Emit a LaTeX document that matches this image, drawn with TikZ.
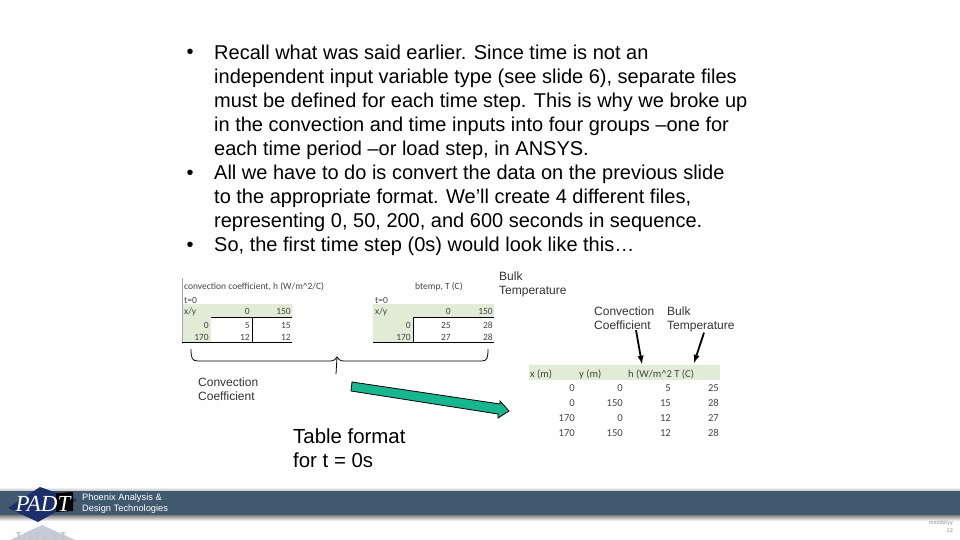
\documentclass[tikz,border=0pt]{standalone}
\usepackage{fontspec}
\setmainfont{Liberation Sans}
\newfontfamily\tablefont{Carlito}
\newfontfamily\logofont{Liberation Serif}
\usetikzlibrary{positioning}

\definecolor{bandgreen}{HTML}{E2EBD6}
\definecolor{arrowgreen}{HTML}{17B68F}
\definecolor{footblue}{HTML}{41596E}
\definecolor{logoblue}{HTML}{1C2F6B}
\definecolor{celltext}{HTML}{454545}

\begin{document}
\begin{tikzpicture}[x=1pt, y=-1pt, node distance=0pt]

\tikzstyle{bullettext}=[inner sep=0pt, align=left, anchor=north west, font=\fontsize{20}{24}\selectfont]
\tikzstyle{bulletdot}=[inner sep=0pt, anchor=base, font=\fontsize{20}{24}\selectfont]
\tikzstyle{callout}=[inner sep=0pt, align=left, anchor=north west, font=\fontsize{12}{14}\selectfont, text=black!80]
\tikzstyle{tablecell}=[inner sep=0pt, font=\tablefont\fontsize{9.5}{11}\selectfont, text=celltext]
\tikzstyle{numcell}=[tablecell, anchor=base east]
\tikzstyle{headcell}=[tablecell, anchor=base west]
\tikzstyle{bigcell}=[font=\tablefont\fontsize{10.6}{12}\selectfont]
\tikzstyle{pil}=[-latex, line width=1.8pt]
\tikzstyle{band}=[fill=bandgreen, draw=none]

\useasboundingbox (0,0) rectangle (960,540);
\fill[white] (0,0) rectangle (960,540);

% bullets
\node[bullettext] (recall) at (214,45) {Recall what was said earlier. Since time is not an\\independent input variable type (see slide 6), separate files\\must be defined for each time step. This is why we broke up\\in the convection and time inputs into four groups --one for\\each time period --or load step, in ANSYS.};
\node[bullettext] (alldata) at (214,165) {All we have to do is convert the data on the previous slide\\to the appropriate format. We’ll create 4 different files,\\representing 0, 50, 200, and 600 seconds in sequence.};
\node[bullettext] (sofirst) at (214,237) {So, the first time step (0s) would look like this…};
\node[bulletdot] (dotrecall) at (190,59) {•};
\node[bulletdot] (dotall) at (190,179) {•};
\node[bulletdot] (dotso) at (190,251) {•};

% left tables
\fill[band] (182,304) rectangle (292,317);
\fill[band] (182,317) rectangle (211,342);
\fill[band] (373,304) rectangle (494,317);
\fill[band] (373,317) rectangle (413,342);
\draw[black!35] (182,278) -- (182,344);
\draw[black] (182,342) -- (292,342);
\draw[black] (211,317) -- (292,317);
\draw[black] (252,317) -- (252,342);
\draw[black] (373,342) -- (494,342);
\draw[black] (413,317) -- (494,317);
\draw[black] (413,317) -- (413,342);

\node[headcell] (hconv) at (184,289) {convection coefficient, h (W/m\textasciicircum 2/C)};
\node[headcell] (hbtemp) at (415,289) {btemp, T (C)};
\node[headcell] (tconv) at (184,303) {t=0};
\node[headcell] (tbtemp) at (375,303) {t=0};
\node[headcell] (xyconv) at (184,314) {x/y};
\node[headcell] (xybtemp) at (375,314) {x/y};

\foreach \x/\y/\v [count=\i] in {250/314/0, 291/314/150, 209/328/0, 250/328/5, 291/328/15, 209/340/170, 250/340/12, 291/340/12}
    \node[numcell] (conv\i) at (\x,\y) {\v};
\foreach \x/\y/\v [count=\i] in {451/314/0, 493/314/150, 411/328/0, 451/328/25, 493/328/28, 411/340/170, 451/340/27, 493/340/28}
    \node[numcell] (btemp\i) at (\x,\y) {\v};

% brace
\draw[black, line width=0.8pt] (191,349) .. controls (191,358) and (192,361) .. (198,361) -- (330,361) .. controls (334,361) and (336,359) .. (337,357) .. controls (338,359) and (340,361) .. (344,361) -- (482,361) .. controls (487,361) and (488,358) .. (488,349);
\draw[black, line width=0.8pt] (337,357) -- (336,374);

% big arrow
\draw[fill=arrowgreen, draw=black, line width=0.8pt] (352,382) -- (500,404) -- (500,401) -- (509,411) -- (498,418) -- (498,414) -- (351,391) -- cycle;

% right table
\fill[band] (529,365) rectangle (720,380);
\node[headcell, bigcell] (xhead) at (530,377) {x (m)};
\node[headcell, bigcell] (yhead) at (579,377) {y (m)};
\node[headcell, bigcell] (hhead) at (628,377) {h (W/m\textasciicircum 2 T (C)};
\foreach \y/\a/\b/\c/\d [count=\i] in {391/0/0/5/25, 406/0/150/15/28, 421/170/0/12/27, 436/170/150/12/28} {
    \node[numcell, bigcell] (xcol\i) at (575,\y) {\a};
    \node[numcell, bigcell] (ycol\i) at (623,\y) {\b};
    \node[numcell, bigcell] (hcol\i) at (671,\y) {\c};
    \node[numcell, bigcell] (tcol\i) at (719,\y) {\d};
}

% labels
\node[callout] (bulkone) at (499,271.5) {Bulk\\Temperature};
\node[callout] (convright) at (594,307) {Convection\\Coefficient};
\node[callout] (bulktwo) at (667,307) {Bulk\\Temperature};
\node[callout] (convleft) at (198,378) {Convection\\Coefficient};
\node[inner sep=0pt, align=left, anchor=north west, font=\fontsize{20.4}{24}\selectfont] (tableformat) at (293,429) {Table format\\for t = 0s};

\coordinate (convhead) at (642,364);
\coordinate (bulkhead) at (694,363);
\draw[pil] ([xshift=42pt]convright.south west) -- (convhead);
\draw[pil] ([xshift=37pt]bulktwo.south west) -- (bulkhead);

% footer bar
\shade[top color=white, bottom color=black!25] (0,487) rectangle (960,491);
\fill[footblue] (0,491) rectangle (960,515);
\shade[top color=black!50, bottom color=white] (0,515) rectangle (960,521);

% logo
\fill[logoblue!25] (42,525) -- (10,540) -- (75,540) -- cycle;
\node[inner sep=0pt, yscale=-1, transform shape, text=black!22, font=\logofont\itshape\fontsize{23}{23}\selectfont] (logoshadow) at (43,540) {PADT};
\fill[logoblue] (8,508) -- (40,487) -- (77,500) -- (38,522) -- cycle;
\fill[black] (56,493) -- (73,492) -- (73,511) -- (56,512) -- cycle;
\node[inner sep=0pt, text=white, font=\logofont\itshape\fontsize{23}{23}\selectfont] (logo) at (43,504) {PADT};
\node[inner sep=0pt, align=left, anchor=west, text=white, font=\fontsize{9.3}{10.2}\selectfont] (company) at (82,503.5) {Phoenix Analysis \&\\Design Technologies};
\node[inner sep=0pt, anchor=east, text=black!45, font=\fontsize{5.5}{6}\selectfont] (datenote) at (953,523) {mm/dd/yy};
\node[inner sep=0pt, anchor=east, text=black!45, font=\fontsize{5.5}{6}\selectfont] (pagenum) at (953,531) {12};

\end{tikzpicture}
\end{document}
